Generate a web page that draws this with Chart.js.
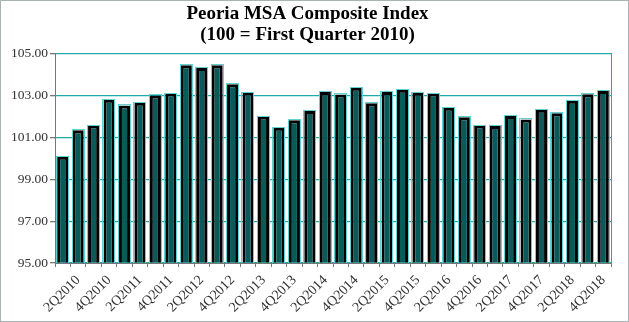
<!DOCTYPE html>
<html>
<head>
<meta charset="utf-8">
<script src="https://cdn.jsdelivr.net/npm/chart.js@4/dist/chart.umd.min.js"></script>
<style>
  html, body { margin: 0; padding: 0; background: #fff; }
  #wrap { width: 627px; height: 320px; border: 1px solid #a9b3b3; }
</style>
</head>
<body>
<div id="wrap"><canvas id="chart" width="627" height="320"></canvas></div>
<script>
// quarters, 1Q2010 .. 4Q2018
var quarters = [
  "1Q2010","2Q2010","3Q2010","4Q2010",
  "1Q2011","2Q2011","3Q2011","4Q2011",
  "1Q2012","2Q2012","3Q2012","4Q2012",
  "1Q2013","2Q2013","3Q2013","4Q2013",
  "1Q2014","2Q2014","3Q2014","4Q2014",
  "1Q2015","2Q2015","3Q2015","4Q2015",
  "1Q2016","2Q2016","3Q2016","4Q2016",
  "1Q2017","2Q2017","3Q2017","4Q2017",
  "1Q2018","2Q2018","3Q2018","4Q2018"
];
var indexValues = [
  100.08, 101.34, 101.57, 102.80,
  102.53, 102.66, 103.01, 103.10,
  104.45, 104.32, 104.45, 103.55,
  103.15, 102.00, 101.46, 101.82,
  102.26, 103.17, 103.06, 103.38,
  102.64, 103.17, 103.28, 103.14,
  103.10, 102.42, 101.97, 101.57,
  101.55, 102.03, 101.86, 102.32,
  102.16, 102.75, 103.07, 103.22
];
var yTicks = [95, 97, 99, 101, 103, 105];

var serif = "'Liberation Serif', 'Times New Roman', serif";
var gridCyan = "#22aaaa";

// thin cyan edge just outside each bar, like the original export
var barHalo = {
  id: "barHalo",
  afterDatasetsDraw: function (chart) {
    var ctx = chart.ctx;
    var area = chart.chartArea;
    ctx.save();
    ctx.beginPath();
    ctx.rect(area.left, area.top - 2, area.right - area.left, area.bottom - area.top + 2);
    ctx.clip();
    ctx.strokeStyle = "#5fd3d3";
    ctx.lineWidth = 1;
    chart.getDatasetMeta(0).data.forEach(function (bar) {
      var l = Math.round(bar.x - bar.width / 2) - 0.5;
      var t = Math.round(bar.y) - 0.5;
      ctx.strokeRect(l, t, Math.round(bar.width) + 1, area.bottom - t);
    });
    ctx.restore();
  }
};

new Chart(document.getElementById("chart"), {
  type: "bar",
  data: {
    labels: quarters,
    datasets: [{
      label: "Composite Index",
      data: indexValues,
      backgroundColor: "#0b5a5a",
      borderColor: "#000",
      borderWidth: 3,
      borderSkipped: false,
      categoryPercentage: 1,
      barPercentage: 0.72
    }]
  },
  plugins: [barHalo],
  options: {
    responsive: false,
    animation: false,
    layout: { padding: { left: 2, right: 16, bottom: 0, top: 0 } },
    plugins: {
      legend: { display: false },
      tooltip: { enabled: false },
      title: {
        display: true,
        text: ["Peoria MSA Composite Index", "(100 = First Quarter 2010)"],
        color: "#000",
        font: { family: serif, size: 19, weight: "bold", lineHeight: 1.1 },
        padding: { top: 3, bottom: 8 }
      }
    },
    scales: {
      x: {
        grid: { offset: true, drawOnChartArea: false, color: "#777", tickLength: 4 },
        border: { color: "#777" },
        ticks: {
          autoSkip: false,
          minRotation: 45,
          maxRotation: 45,
          color: "#333",
          padding: 5,
          font: { family: serif, size: 14 },
          callback: function (v, i) { return i % 2 === 1 ? quarters[i] : ""; }
        },
        afterFit: function (s) { s.height = 58; }
      },
      y: {
        min: 95,
        max: 105,
        afterBuildTicks: function (s) { s.ticks = yTicks.map(function (v) { return { value: v }; }); },
        grid: { color: gridCyan, tickColor: "#777", tickLength: 5, lineWidth: 1.3 },
        border: { color: "#777" },
        ticks: {
          color: "#333",
          padding: 2,
          font: { family: serif, size: 13.5 },
          callback: function (v) { return Number(v).toFixed(2); }
        },
        afterFit: function (s) { s.width = 52; }
      },
      yRight: {
        position: "right",
        min: 95,
        max: 105,
        grid: { display: false },
        border: { color: gridCyan },
        ticks: { display: false },
        afterFit: function (s) { s.width = 1; }
      }
    }
  }
});
</script>
</body>
</html>
